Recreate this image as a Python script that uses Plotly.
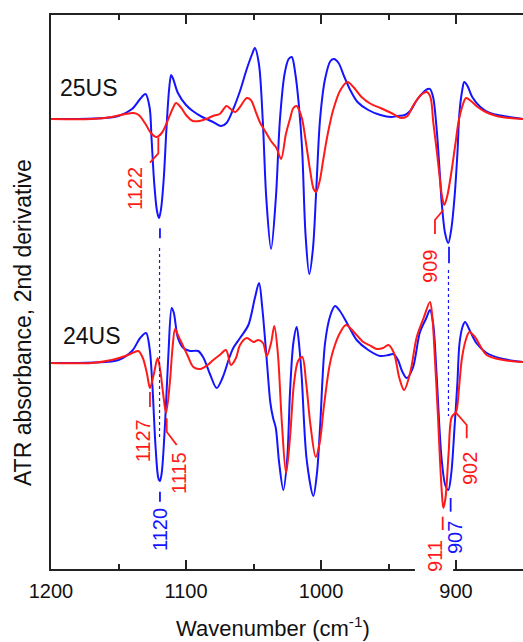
import plotly.graph_objects as go

# ---------------- data (wavenumber cm-1, 2nd-derivative value, arbitrary units) ----------------
b25_wn = [1200, 1180, 1160, 1150, 1140, 1134, 1130, 1127, 1125.5, 1123.5, 1121.5, 1120, 1118.5, 1116.5,
          1114.5, 1112.5, 1111, 1109.5, 1106, 1100, 1095, 1088, 1080, 1074, 1070, 1065, 1060, 1055, 1051,
          1049, 1046, 1043.2, 1040.5, 1037, 1033.5, 1030.4, 1027, 1024, 1021.7, 1019, 1016.5, 1014, 1011.5,
          1008.7, 1006, 1003.5, 1000.7, 997, 993, 990.4, 987, 983, 978, 973, 965, 956, 948, 943, 938, 934,
          929, 924, 921, 919.3, 917, 914.3, 912, 910.6, 908, 905.7, 903.5, 901.1, 899, 897.5, 895.5, 893.9,
          891.5, 888, 882, 875, 865, 850]
b25_y = [0, 0, 1, 3, 10, 20, 25, 12, -20, -65, -92, -99, -90, -60,
         -10, 30, 44, 40, 26, 14, 8, 2, -3, -7, -4, 10, 28, 50, 65,
         71, 55, 0, -80, -130, -80, 0, 45, 60, 62, 45, 15, -30, -115,
         -155, -130, -70, 0, 40, 58, 60, 56, 43, 28, 17, 9, 4, 2, 3, 4, 8,
         19, 27, 30, 30, 22, -11, -55, -84, -115, -124, -110, -78, -35, 6, 28, 37,
         33, 22, 12, 6, 3, 0]

r25_wn = [1200, 1170, 1155, 1145, 1139, 1135, 1130, 1126, 1122, 1118, 1114, 1110, 1107.4, 1104, 1100,
          1095, 1090, 1085, 1080, 1075, 1070, 1067, 1063.7, 1060, 1055, 1052, 1048, 1045, 1041, 1036.5,
          1033, 1029.6, 1026, 1023, 1020.5, 1018, 1016, 1014, 1011, 1008, 1005.5, 1003.7, 1001, 998.5, 996,
          993.5, 991, 986, 980.5, 976, 970, 963, 956, 948, 944, 940.2, 936, 931.5, 926, 921.7, 919, 916.8,
          914, 911.9, 910.3, 908.7, 906.5, 903.2, 900.5, 898.3, 895.5, 892.6, 889, 884, 878, 870, 860, 850]
r25_y = [0, 0, 2, 5, 6, 4, -5, -14, -18, -14, -3, 10, 16, 12, 4,
         -2, -2, 0, 3, 5, 13, 10, 7, 12, 21, 19, 6, -4, -13, -23,
         -29, -40, -15, 0, 11, 13, 8, 0, -25, -52, -70, -73, -62, -42, -22,
         -5, 9, 28, 37, 32, 22, 15, 11, 6, 3, 1, 3, 14, 24, 27, 22, -4,
         -35, -61, -78, -86, -77, -51, -25, -4, 12, 21, 18, 12, 7, 3, 1, 0]

b24_wn = [1200, 1180, 1160, 1150, 1140, 1134, 1129.6, 1127, 1125, 1122.5, 1120.5, 1119.3, 1118, 1115.5,
          1113, 1110.6, 1109, 1106, 1102, 1097, 1091, 1087, 1082, 1077.3, 1073, 1068, 1065, 1060, 1053.8,
          1049, 1045.9, 1043.5, 1040.2, 1037.5, 1035.5, 1033.5, 1031, 1027.9, 1025, 1023, 1020.5, 1018,
          1016, 1014.3, 1010.6, 1005.7, 1003, 1000.7, 997, 993, 989.6, 986, 980, 973.6, 965, 956.3, 950,
          946.4, 943, 940, 936.5, 932, 926.7, 922, 919.3, 917, 914.3, 912.5, 910.6, 908, 905.7, 903.5,
          901.1, 899, 897.4, 895, 893.3, 890, 885, 877.3, 865, 850]
b24_y = [0, 0, 1, 3, 12, 25, 30, 15, -20, -85, -115, -118, -110, -60,
         10, 55, 50, 25, 15, 12, 12, 5, -12, -25, -15, 5, 15, 25, 38,
         65, 80, 55, 3, -40, -55, -65, -100, -127, -95, -30, 20, 36,
         15, -14, -97, -133, -110, -64, 20, 48, 57, 52, 38, 23, 13, 7, 8,
         9, 3, -8, -15, -5, 31, 45, 53, 40, -14, -60, -97, -122, -127, -110,
         -64, -20, 20, 37, 41, 33, 20, 10, 4, 1]

r24_wn = [1200, 1170, 1155, 1145, 1138, 1135.3, 1132, 1129, 1126.7, 1124, 1121, 1119, 1117, 1114.8,
          1112, 1110, 1108.1, 1106, 1103.2, 1099, 1094.6, 1089.6, 1084, 1079.8, 1075, 1070.4, 1066.7,
          1063, 1060, 1055, 1050, 1046.4, 1043, 1040.2, 1037, 1034.6, 1032, 1029, 1025.9, 1023, 1020,
          1017, 1013.9, 1011, 1008, 1003.9, 1001, 998, 994, 990.9, 986, 981.5, 975, 968.7, 963, 958.7,
          954, 950.1, 946, 942, 938.5, 934, 929.1, 924, 919.3, 917.5, 915.6, 913.5, 911.9, 910.5, 909.4,
          907.8, 905.5, 903.2, 900, 897.8, 895.8, 893, 890.1, 886, 877.3, 865, 850]
r24_y = [0, 0, 3, 7, 11, 12, 5, -10, -25, -12, 5, -8, -30, -50,
         -20, 15, 34, 28, 20, 8, -4, -6, -2, 3, 8, 13, -2,
         5, 18, 25, 21, 23, 20, 7, 20, 37, 10, -60, -110, -75, -20,
         2, 6, -20, -60, -94, -80, -45, -5, 13, 30, 38, 30, 21, 17, 14,
         15, 18, 10, -15, -27, -10, 26, 45, 61, 45, 3, -50, -97, -130, -145,
         -135, -90, -54, -49, -25, 3, 22, 31, 26, 8, 3, 1]

offsets = [0, -244]          # vertical offsets of the 25US and 24US traces
sample_names = ["25US", "24US"]

peak_labels = [            # text, wavenumber of label centre, y of label centre, colour
    ("1122", 1137.8, -69, "red"),
    ("909", 919.3, -147, "red"),
    ("1127", 1131.6, -322, "red"),
    ("1115", 1105.2, -354, "red"),
    ("1120", 1119.3, -410, "blue"),
    ("911", 915.6, -437, "red"),
    ("907", 900.7, -419, "blue"),
    ("902", 889.6, -350, "red"),
]

BLUE = "#1414ff"
RED = "#ff1a1a"
FONT = "Liberation Sans, Arial, sans-serif"

fig = go.Figure()
series = [(b25_wn, b25_y, BLUE, 0), (r25_wn, r25_y, RED, 0),
          (b24_wn, b24_y, BLUE, 1), (r24_wn, r24_y, RED, 1)]
for wn, yv, col, k in series:
    fig.add_trace(go.Scatter(x=wn, y=[v + offsets[k] for v in yv], mode="lines",
                             line=dict(color=col, width=2, shape="spline", smoothing=0.9),
                             hoverinfo="skip", showlegend=False))

# leader lines / ticks
def seg(pts, col, width=1.8, dash=None):
    path = "M " + " L ".join(f"{x},{y}" for x, y in pts)
    fig.add_shape(type="path", path=path, xref="x", yref="y",
                  line=dict(color=col, width=width, dash=dash), layer="above")

seg([(1126.7, -43.7), (1120.5, -34.3), (1120.5, -18.3)], RED)          # 1122
seg([(1119.3, -109.3), (1119.3, -119.3)], BLUE)                         # upper 1120 tick
seg([(1119.6, -129), (1119.6, -318)], BLUE, 1.2, "dot")                 # dotted link
seg([(915.6, -115), (915.6, -101), (909.4, -91)], RED)                  # 909
seg([(905.2, -127.7), (905.2, -144.3)], BLUE)                           # upper 907 tick
seg([(905.6, -151), (905.6, -297)], BLUE, 1.2, "dot")                   # dotted link
seg([(1126.7, -273), (1126.7, -288)], RED)                              # 1127
seg([(1114.3, -299.3), (1114.3, -312.7), (1106.9, -326)], RED)          # 1115
seg([(1119.3, -372.7), (1119.3, -382.7)], BLUE)                         # 1120
seg([(909.9, -397.7), (909.9, -411)], RED)                              # 911
seg([(904.0, -379), (904.0, -392.7)], BLUE)                             # 907
seg([(900.7, -292.7), (892.1, -306), (892.1, -319.3)], RED)             # 902

# white gap in bottom axis behind the 911 label
fig.add_shape(type="rect", xref="paper", yref="paper", x0=0.771, x1=0.852, y0=-0.012, y1=0.012,
              fillcolor="white", line=dict(width=0), layer="above")

for txt, x, y, c in peak_labels:
    fig.add_annotation(x=x, y=y, text=txt, textangle=-90, showarrow=False,
                       xanchor="center", yanchor="middle",
                       font=dict(family=FONT, size=20, color=RED if c == "red" else BLUE))

for name, x, y in zip(sample_names, [1171.9, 1169.9], [31, -217]):
    fig.add_annotation(x=x, y=y, text=name, showarrow=False, xanchor="center", yanchor="middle",
                       font=dict(family=FONT, size=23, color="#111"))

fig.add_annotation(xref="paper", yref="paper", x=0.471, y=-0.104, text="Wavenumber (cm<sup>-1</sup>)",
                   showarrow=False, xanchor="center", yanchor="middle",
                   font=dict(family=FONT, size=22, color="#111"))
fig.add_annotation(xref="paper", yref="paper", x=-0.0593, y=0.444, text="ATR absorbance, 2nd derivative",
                   textangle=-90, showarrow=False, xanchor="center", yanchor="middle",
                   font=dict(family=FONT, size=23, color="#111"))

fig.update_layout(
    width=523, height=642, margin=dict(l=51, r=0, t=15, b=73),
    paper_bgcolor="white", plot_bgcolor="white",
    font=dict(family=FONT, color="#111"),
    xaxis=dict(range=[1200, 850.4], tickvals=[1200, 1100, 1000, 900], ticks="inside", ticklen=9,
               tickwidth=1.8, tickcolor="#222", showline=True, linecolor="#222", linewidth=1.8,
               mirror="ticks", showgrid=False, zeroline=False, ticklabelstandoff=3,
               tickfont=dict(family=FONT, size=20, color="#111"),
               minor=dict(tickvals=[1150, 1050, 950], ticks="inside", ticklen=5, tickwidth=1.8,
                          tickcolor="#222")),
    yaxis=dict(range=[-450, 104], showticklabels=False, ticks="", showline=True, linecolor="#222",
               linewidth=1.8, mirror=False, showgrid=False, zeroline=False),
)

fig.write_html("out.html")
